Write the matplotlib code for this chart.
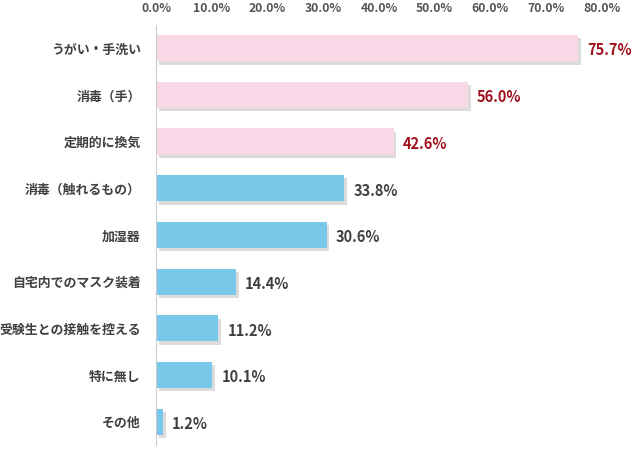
import matplotlib
matplotlib.use("Agg")
import matplotlib.pyplot as plt
from matplotlib.patches import Rectangle

plt.rcParams['font.family'] = ['Noto Sans CJK JP', 'DejaVu Sans']

categories = ["うがい・手洗い", "消毒（手）", "定期的に換気", "消毒（触れるもの）", "加湿器",
              "自宅内でのマスク装着", "受験生との接触を控える", "特に無し", "その他"]
values = [75.7, 56.0, 42.6, 33.8, 30.6, 14.4, 11.2, 10.1, 1.2]
ticks = [0, 10, 20, 30, 40, 50, 60, 70, 80]
tick_labels = ["0.0%", "10.0%", "20.0%", "30.0%", "40.0%", "50.0%", "60.0%", "70.0%", "80.0%"]
highlight_n = 3

pink = "#F8D7E6"
blue = "#78C8EA"

fig = plt.figure(figsize=(6.4, 4.51), dpi=100)
ax = fig.add_axes([0.2438, 0.013, 0.6968, 0.932])

n = len(categories)
ys = list(range(n))
h = 0.56
for i, (c, v) in enumerate(zip(categories, values)):
    col = pink if i < highlight_n else blue
    # shadow
    ax.add_patch(Rectangle((0.5, i - h / 2 + 0.07), v, h, facecolor="#999999", alpha=0.35,
                           edgecolor="none", zorder=1))
    ax.barh(i, v, height=h, color=col, zorder=2)
    tcol = "#A0101E" if i < highlight_n else "#404040"
    ax.text(v + 1.6, i + 0.05, f"{v:.1f}%", va="center", ha="left", fontsize=10.5,
            fontweight="bold", color=tcol)

ax.set_xlim(0, 80)
ax.set_ylim(n - 0.5, -0.5)
ax.set_yticks(ys)
ax.set_yticklabels(categories, fontsize=9.3, fontweight="bold", color="#404040")
ax.set_xticks(ticks)
ax.set_xticklabels(tick_labels, fontsize=8.8, fontweight="bold", color="#555555")
ax.xaxis.tick_top()
ax.tick_params(axis="both", length=0)
ax.tick_params(axis="y", pad=11)
ax.tick_params(axis="x", pad=7)
for s in ["top", "right", "bottom"]:
    ax.spines[s].set_visible(False)
ax.spines["left"].set_color("#CCCCCC")
ax.spines["left"].set_linewidth(0.8)

fig.savefig("out.png", dpi=100, facecolor="white")
